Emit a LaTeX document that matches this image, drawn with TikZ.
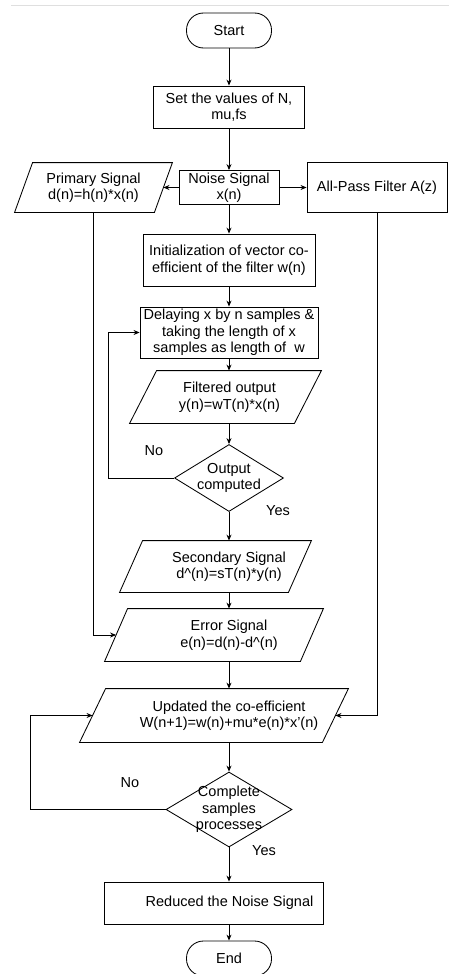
\documentclass[tikz,border=0pt]{standalone}
\usepackage{fontspec}
\setmainfont{Liberation Sans}
\usetikzlibrary{arrows.meta, shapes.geometric}

\begin{document}
\begin{tikzpicture}[x=1pt, y=-1pt, line width=0.85pt,
    every node/.style={font=\fontsize{14.5}{16.5}\selectfont, align=center},
    term/.style={draw, rounded corners=17pt, minimum width=85pt, minimum height=35pt},
    proc/.style={draw, rectangle, inner sep=2pt},
    io/.style={rectangle, inner sep=0pt},
    decide/.style={draw, diamond, inner sep=2pt},
    arr/.style={-{Stealth[length=6pt, width=5pt]}}]
  \useasboundingbox (0,0) rectangle (449,974);
  \draw[gray!25] (11,5) -- (449,5);

  \node[term] (start) at (229,30.5) {Start};
  \node[proc, minimum width=151pt, minimum height=42pt] (set) at (229,107) {Set the values of N,\\mu,fs};
  \node[proc, minimum width=100pt, minimum height=33pt] (noise) at (229,187.5) {Noise Signal\\x(n)};
  \node[io, minimum width=139pt, minimum height=49pt] (prim) at (93.5,187.5) {Primary Signal\\d(n)=h(n)*x(n)};
  \node[proc, minimum width=140pt, minimum height=50pt] (apf) at (377,187.5) {All-Pass Filter A(z)};
  \node[proc, minimum width=172pt, minimum height=52pt] (init) at (229,260) {Initialization of vector co-\\efficient of the filter w(n)};
  \node[proc, minimum width=178pt, minimum height=51pt] (delay) at (229,332.5) {Delaying x by n samples \&\\taking the length of x\\samples as length of\ \ w};
  \node[io, minimum width=164pt, minimum height=52pt, label={[xshift=4pt]center:{Filtered output\\y(n)=wT(n)*x(n)}}] (filt) at (225.5,397) {};
  \node[decide, minimum width=109pt, minimum height=67pt, label={center:{Output\\computed}}] (out) at (229,478) {\strut};
  \node[io, minimum width=168pt, minimum height=51pt, label={[xshift=13.5pt]center:{Secondary Signal\\d\^{}(n)=sT(n)*y(n)}}] (sec) at (215.5,566.5) {};
  \node[io, minimum width=195pt, minimum height=52pt, label={[xshift=15pt]center:{Error Signal\\e(n)=d(n)-d\^{}(n)}}] (err) at (214,635) {};
  \node[io, minimum width=242pt, minimum height=53pt, label={[xshift=15pt]center:{Updated the co-efficient\\W(n+1)=w(n)+mu*e(n)*x'(n)}}] (upd) at (214,715.5) {};
  \node[decide, minimum width=126pt, minimum height=75pt, label={center:{Complete\\samples\\processes}}] (done) at (229,809.5) {\strut};
  \node[proc, minimum width=219pt, minimum height=42pt, label={[xshift=16pt]center:{Reduced the Noise Signal}}] (red) at (213.5,903) {};
  \node[term] (stop) at (229,958.5) {End};

  % slanted outlines of the signal boxes
  \foreach \n/\s in {prim/9, filt/13.5, sec/11.5, err/11.5, upd/13}
    \draw ([xshift=-\s pt]\n.south west) -- ([xshift=\s pt]\n.north west) -- ([xshift=\s pt]\n.north east) -- ([xshift=-\s pt]\n.south east) -- cycle;

  \node (no1) at (154,451) {No};
  \node (yes1) at (278,511) {Yes};
  \node (no2) at (130,783) {No};
  \node (yes2) at (264,851) {Yes};

  % main column
  \draw[arr] (start) -- (set);
  \draw[arr] (set) -- (noise);
  \draw[arr] (noise) -- (prim);
  \draw[arr] (noise) -- (apf);
  \draw[arr] (noise) -- (init);
  \draw[arr] (init) -- (delay);
  \draw[arr] (delay) -- (delay |- filt.north);
  \draw[arr] (filt.south -| out) -- (out);
  \draw[arr] (out) -- (out |- sec.north);
  \draw[arr] (sec.south -| out) -- (out |- err.north);
  \draw[arr] (err.south -| out) -- (out |- upd.north);
  \draw[arr] (upd.south -| done) -- (done);
  \draw[arr] (done) -- (done |- red.north);
  \draw[arr] (red.south -| done) -- (stop);

  % side paths and loops
  \draw[arr] (out.west) -- ++(-66,0) |- (delay.west);
  \draw[arr] (prim) |- (err);
  \draw[arr] (apf) |- (upd);
  \draw[arr] (done.west) -- ++(-135,0) |- (upd.west);
\end{tikzpicture}
\end{document}
